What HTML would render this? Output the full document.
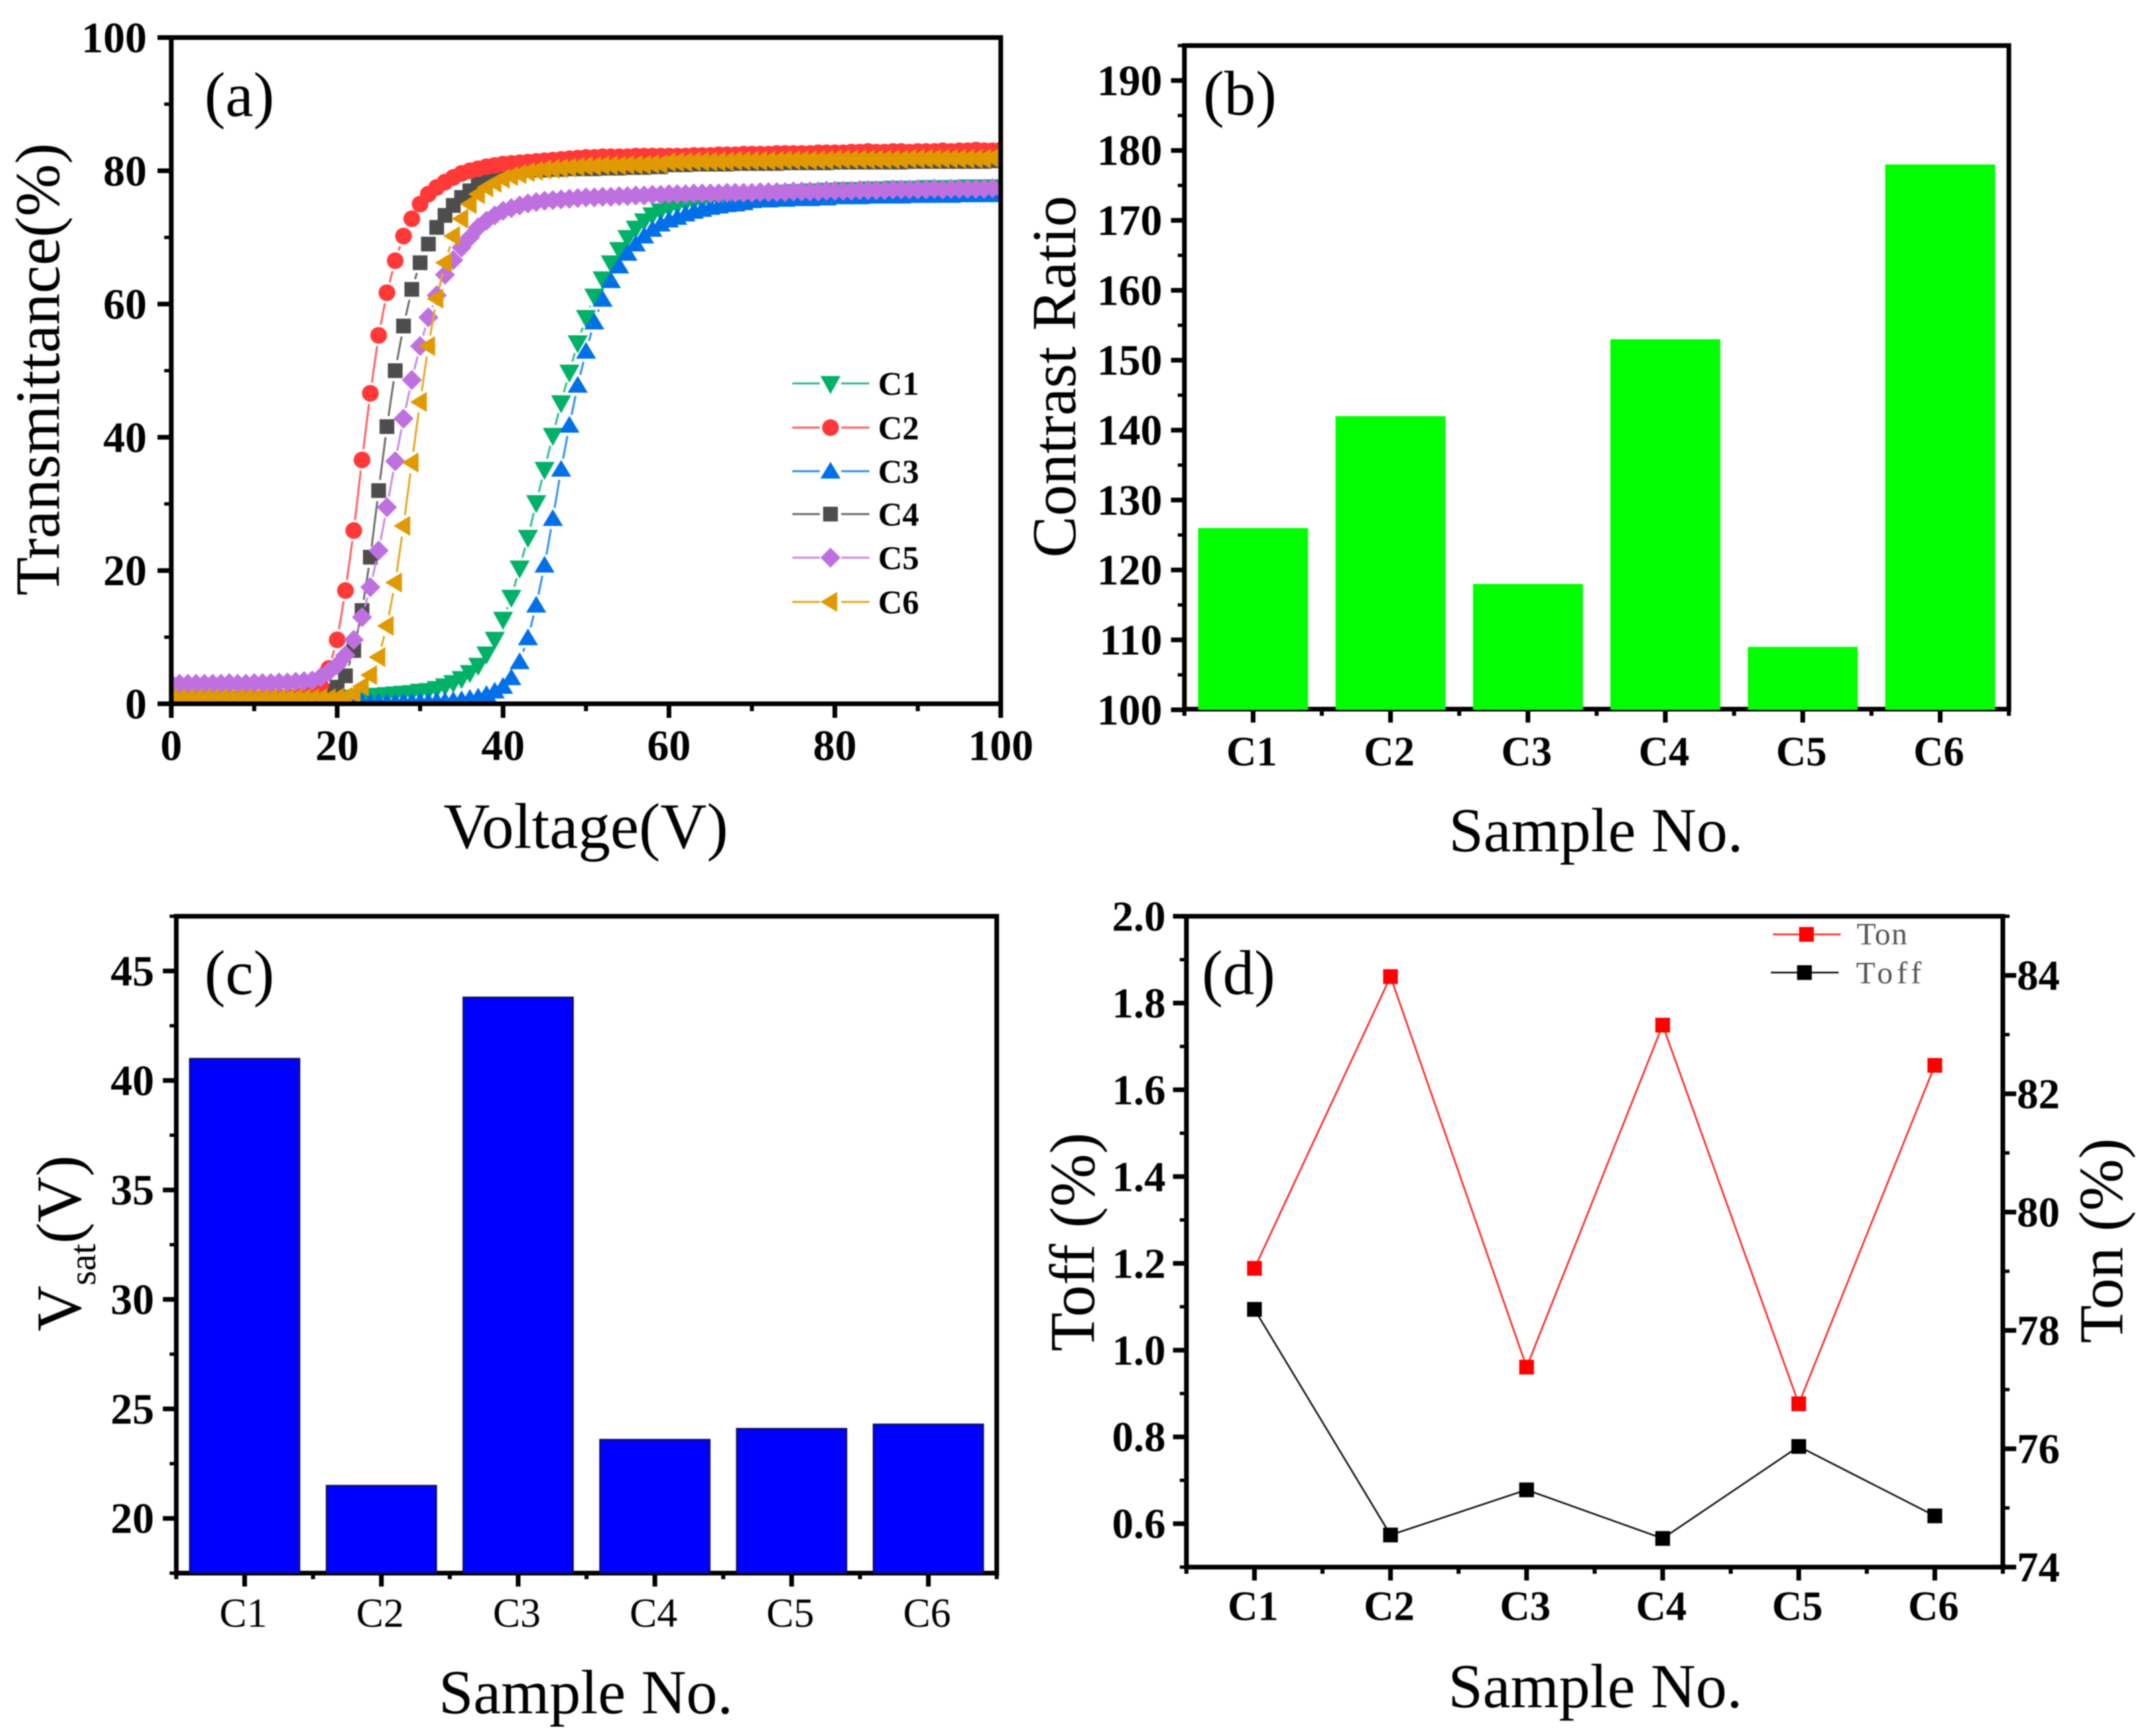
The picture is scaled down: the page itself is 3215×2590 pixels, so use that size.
<!DOCTYPE html>
<html lang="en">
<head>
<meta charset="utf-8">
<title>Electro-optical properties of samples C1–C6</title>
<style>
html,body{margin:0;padding:0;background:#fff;width:3215px;height:2590px;overflow:hidden}
svg{display:block;filter:blur(0.8px)}
text{font-family:"Liberation Serif",serif;fill:#000}
.title{font-size:93px}
.panel{font-size:94px}
</style>
</head>
<body>
<svg id="figure" xmlns="http://www.w3.org/2000/svg" width="3215" height="2590" viewBox="0 0 3215 2590">
  <defs>
    <clipPath id="clip-a"><rect x="255" y="56" width="1238" height="994"/></clipPath>
  </defs>
  <rect x="0" y="0" width="3215" height="2590" fill="#fff"/>

  <g id="panel-a">
    <g id="a-marks" clip-path="url(#clip-a)"></g>
    <rect x="255.5" y="56" width="1237.5" height="994" fill="none" stroke="#000" stroke-width="7"/>
    <g id="a-axes"></g>
    <g id="a-legend"></g>
    <text class="panel" x="305" y="173">(a)</text>
    <text class="title" x="874" y="1265" text-anchor="middle" font-size="96" style="font-size:96px">Voltage(V)</text>
    <text class="title" transform="translate(88,551) rotate(-90)" text-anchor="middle" style="font-size:94px">Transmittance(%)</text>
  </g>

  <g id="panel-b">
    <rect x="1767" y="68" width="1230" height="990" fill="none" stroke="#000" stroke-width="7"/>
    <g id="b-axes"></g>
    <g id="b-marks"></g>
    <text class="panel" x="1795" y="171">(b)</text>
    <text class="title" x="2381" y="1270" text-anchor="middle">Sample No.</text>
    <text class="title" transform="translate(1604,562) rotate(-90)" text-anchor="middle">Contrast Ratio</text>
  </g>

  <g id="panel-c">
    <rect x="263" y="1367" width="1224" height="980" fill="none" stroke="#000" stroke-width="7"/>
    <g id="c-axes"></g>
    <g id="c-marks"></g>
    <text class="panel" x="305" y="1483">(c)</text>
    <text class="title" x="874" y="2556" text-anchor="middle">Sample No.</text>
    <text class="title" transform="translate(120,1855) rotate(-90)" text-anchor="middle" style="font-size:95px">V<tspan font-size="56" dy="22">sat</tspan><tspan dy="-22">(V)</tspan></text>
  </g>

  <g id="panel-d">
    <rect x="1770" y="1367" width="1218" height="971" fill="none" stroke="#000" stroke-width="7"/>
    <g id="d-axes"></g>
    <g id="d-marks"></g>
    <g id="d-legend"></g>
    <text class="panel" x="1793" y="1483">(d)</text>
    <text class="title" x="2380" y="2547" text-anchor="middle">Sample No.</text>
    <text class="title" transform="translate(1632,1853) rotate(-90)" text-anchor="middle" style="font-size:95px">Toff (%)</text>
    <text class="title" transform="translate(3166,1851) rotate(-90)" text-anchor="middle">Ton (%)</text>
  </g>
</svg>

<script>
// ---------- data ----------
const voltages = [0,1,2,3,4,5,6,7,8,9,10,11,12,13,14,15,16,17,18,19,20,21,22,23,24,25,26,27,28,29,30,31,32,33,34,35,36,37,38,39,40,41,42,43,44,45,46,47,48,49,50,51,52,53,54,55,56,57,58,59,60,61,62,63,64,65,66,67,68,69,70,71,72,73,74,75,76,77,78,79,80,81,82,83,84,85,86,87,88,89,90,91,92,93,94,95,96,97,98,99,100];
const c1Values = [.4,.4,.5,.4,.5,.5,.4,.5,.5,.5,.6,.5,.6,.6,.6,.7,.7,.7,.8,.8,.9,.9,1.0,1.1,1.2,1.3,1.4,1.5,1.6,1.7,1.9,2.0,2.3,2.7,3.2,3.8,4.7,5.8,7.5,9.7,12.7,16,20.4,25,30.2,35.2,40.3,45.2,49.8,54.2,58,61.2,63.8,66.2,68.2,70,71.4,72.5,73.4,74,74.5,74.9,75.2,75.4,75.6,75.8,75.9,76,76.1,76.2,76.4,76.5,76.6,76.7,76.8,76.9,76.9,77,77,77.1,77.1,77.2,77.2,77.2,77.3,77.3,77.3,77.4,77.3,77.4,77.4,77.5,77.4,77.5,77.5,77.5,77.6,77.5,77.6,77.6,77.6];
const c2Values = [.7,.7,.7,.7,.7,.8,.7,.7,.8,.7,.8,.8,.8,.9,.9,1,1.2,1.6,2.7,5.3,9.6,17,26,36.6,46.6,55.3,61.7,66.5,70.2,72.8,75,76.5,77.5,78.3,79,79.6,80,80.3,80.6,80.8,81,81.1,81.2,81.3,81.4,81.5,81.6,81.7,81.8,81.9,82,82,82.1,82.1,82.1,82.1,82.2,82.2,82.2,82.2,82.2,82.2,82.2,82.3,82.3,82.3,82.4,82.4,82.4,82.5,82.5,82.5,82.5,82.6,82.6,82.6,82.6,82.6,82.7,82.7,82.7,82.7,82.8,82.8,82.9,82.8,82.8,82.9,82.9,82.8,82.9,82.9,82.9,83,82.9,83,83,83.1,83,83,83.1];
const c3Values = [.1,.1,.1,.1,.1,.1,.1,.1,.1,.1,.1,.1,.1,.1,.1,.1,.2,.2,.2,.2,.2,.2,.2,.2,.2,.2,.2,.2,.3,.3,.3,.3,.4,.4,.5,.6,.8,1,1.4,1.9,2.6,3.9,6.3,9.9,14.8,20.8,27.8,35.2,41.8,47.8,52.9,57.3,60.7,63.5,65.7,67.6,69,70.2,71.2,72,72.6,73,73.5,73.9,74.2,74.5,74.7,74.9,75,75.2,75.5,75.6,75.6,75.7,75.7,75.8,75.8,75.8,75.9,75.9,76.1,76.1,76.1,76.1,76.2,76.2,76.2,76.2,76.2,76.3,76.3,76.3,76.3,76.4,76.3,76.4,76.4,76.4,76.4,76.5,76.4];
const c4Values = [.9,.9,.9,.9,.9,.9,.9,.9,.9,.9,.9,.9,1,1,1,1.1,1.2,1.3,1.5,1.9,2.5,4.2,8,14,22,32,41.6,50,56.7,62.2,66.2,69,71.5,73.3,74.8,76,77,78,78.8,79.4,79.8,80,80,80.1,80.1,80.1,80.2,80.2,80.3,80.3,80.3,80.3,80.4,80.4,80.4,80.5,80.5,80.5,80.6,80.6,80.9,80.9,80.9,81,81,81,81,81,81.1,81.1,81.1,81.1,81.1,81.1,81.2,81.2,81.2,81.2,81.2,81.2,81.3,81.3,81.3,81.3,81.3,81.3,81.3,81.3,81.3,81.4,81.4,81.4,81.4,81.4,81.4,81.4,81.4,81.4,81.4,81.5,81.5];
const c5Values = [3,3,3,3,3,3,3,3.1,3,3,3.1,3.1,3.1,3.2,3.2,3.3,3.4,3.5,4,4.8,5.8,7.3,9.6,13,17.5,23,29.5,36.4,42.8,48.6,53.7,58,61.3,64.4,66.6,68.5,70,71.5,72.5,73.3,74,74.4,74.8,75.1,75.3,75.5,75.6,75.7,75.8,75.9,76,76,76.1,76.1,76.2,76.2,76.3,76.3,76.4,76.4,76.5,76.5,76.5,76.6,76.6,76.6,76.6,76.7,76.7,76.7,76.7,76.8,76.8,76.8,76.8,76.9,76.9,76.9,76.9,77,77,77,77,77.1,77.1,77.1,77.1,77.2,77.2,77.2,77.2,77.2,77.3,77.2,77.3,77.3,77.3,77.3,77.3,77.4,77.3];
const c6Values = [.8,.8,.8,.8,.8,.8,.8,.8,.8,.8,.8,.8,.8,.8,.8,.8,.8,.8,.8,.8,.9,1,1.5,2.6,4.3,7,11.7,18.2,26.7,36.2,45.3,53.7,60.8,66.2,70.2,72.8,75,76.5,77.5,78.2,78.8,79.2,79.5,79.8,80,80.2,80.3,80.4,80.5,80.6,80.7,80.7,80.8,80.8,80.8,80.9,80.9,80.9,81,81,81.3,81.3,81.3,81.4,81.4,81.4,81.4,81.4,81.5,81.5,81.5,81.5,81.5,81.5,81.6,81.6,81.6,81.6,81.6,81.6,81.7,81.7,81.7,81.7,81.7,81.7,81.7,81.7,81.7,81.8,81.8,81.8,81.8,81.8,81.8,81.8,81.8,81.8,81.8,81.9,81.8];
const sampleLabels = ['C1','C2','C3','C4','C5','C6'];
const contrastValues = [126,142,118,153,109,178];
const vsatValues = [41,21.5,43.8,23.6,24.1,24.3];
const tonValues = [79.05,83.98,77.38,83.16,76.76,82.48];
const toffValues = [1.094,0.574,0.678,0.566,0.778,0.618];
const aXTickLabels = [0,20,40,60,80,100];
const aYTickLabels = [0,20,40,60,80,100];
const bYTickLabels = [100,110,120,130,140,150,160,170,180,190];
const cYTickLabels = [20,25,30,35,40,45];
const dLeftTickLabels = ['0.6','0.8','1.0','1.2','1.4','1.6','1.8','2.0'];
const dRightTickLabels = [74,76,78,80,82,84];

// ---------- helpers ----------
const SVG_NS = 'http://www.w3.org/2000/svg';
function linear(d0, d1, r0, r1) {
  return function (v) { return r0 + (v - d0) * (r1 - r0) / (d1 - d0); };
}
function make(parent, tag, attrs) {
  const el = document.createElementNS(SVG_NS, tag);
  for (const k in attrs) el.setAttribute(k, attrs[k]);
  parent.appendChild(el);
  return el;
}
function tick(parent, x1, y1, x2, y2, w) {
  const el = make(parent, 'line', {x1: x1, y1: y1, x2: x2, y2: y2, stroke: '#000', 'stroke-width': w});
  
  
}
function label(parent, x, y, txt, anchor, size, bold) {
  const el = make(parent, 'text', {x: x, y: y, 'text-anchor': anchor, 'font-size': size, 'font-weight': bold ? 'bold' : 'normal'});
  el.textContent = txt;
  
  
  return el;
}
function yAxis(parent, scale, labels, step, lineX, dir, textX, anchor, domMin, domMax, major, minor, size) {
  labels.forEach(function (t) {
    const y = scale(parseFloat(t));
    label(parent, textX, y + size * 0.335, t, anchor, size, true);
  });
  const first = parseFloat(labels[0]);
  for (let k = -4; k * step + first <= domMax + 1e-6; k++) {
    const v = k * step + first;
    if (v < domMin - 1e-6) continue;
    const isMajor = k % 2 === 0;
    tick(parent, lineX, scale(v), lineX + dir * (isMajor ? major : minor), scale(v), isMajor ? 7 : 5);
  }
}
function sampleAxis(parent, scale, y0, textY, bold, size, major, minor) {
  sampleLabels.forEach(function (s, i) {
    const x = scale(i + 1);
    tick(parent, x, y0, x, y0 + major, 7);
    label(parent, x - 2, textY, s, 'middle', size, bold);
  });
  for (let i = 0; i <= 6; i++) {
    const x = scale(i + 0.5);
    tick(parent, x, y0, x, y0 + minor, 6);
  }
}
function marker(parent, shape, x, y, color) {
  let el;
  if (shape === 'down') el = make(parent, 'polygon', {points: [x - 15, y - 11, x + 15, y - 11, x, y + 16].join(' ')});
  else if (shape === 'up') el = make(parent, 'polygon', {points: [x - 15, y + 11, x + 15, y + 11, x, y - 14].join(' ')});
  else if (shape === 'left') el = make(parent, 'polygon', {points: [x + 10, y - 15, x + 10, y + 15, x - 15, y].join(' ')});
  else if (shape === 'diamond') el = make(parent, 'polygon', {points: [x - 15, y, x, y - 15, x + 15, y, x, y + 15].join(' ')});
  else if (shape === 'circle') el = make(parent, 'circle', {cx: x, cy: y, r: 12.5});
  else el = make(parent, 'rect', {x: x - 11, y: y - 11, width: 22, height: 22});
  el.setAttribute('fill', color);
  
  
  return el;
}
function gappedLine(parent, xs, ys, color, gap, width) {
  for (let i = 0; i < xs.length - 1; i++) {
    const dx = xs[i + 1] - xs[i], dy = ys[i + 1] - ys[i];
    const len = Math.sqrt(dx * dx + dy * dy);
    if (len <= gap * 2 + 1) continue;
    const ux = dx / len, uy = dy / len;
    const el = make(parent, 'line', {x1: xs[i] + ux * gap, y1: ys[i] + uy * gap, x2: xs[i + 1] - ux * gap, y2: ys[i + 1] - uy * gap, stroke: color, 'stroke-width': width});
    
    
  }
}

// ---------- panel (a) ----------
const aX = linear(0, 100, 255.5, 1493);
const aY = linear(0, 100, 1050, 56);
const seriesA = [
  {name: 'C1', values: c1Values, shape: 'down', color: '#00b167', line: '#2fc08a', row: 572},
  {name: 'C4', values: c4Values, shape: 'square', color: '#4d4d4d', line: '#6e6e6e', row: 767},
  {name: 'C2', values: c2Values, shape: 'circle', color: '#ff3838', line: '#ff6060', row: 638},
  {name: 'C3', values: c3Values, shape: 'up', color: '#006fe8', line: '#2e90f0', row: 703},
  {name: 'C5', values: c5Values, shape: 'diamond', color: '#bf70e0', line: '#c98ae6', row: 832},
  {name: 'C6', values: c6Values, shape: 'left', color: '#e09a00', line: '#e6a722', row: 898}
];
const aMarks = document.getElementById('a-marks');
const aLegend = document.getElementById('a-legend');
const aAxes = document.getElementById('a-axes');
seriesA.forEach(function (s) {
  const g = make(aMarks, 'g', {});
  
  
  const xs = voltages.map(aX);
  const ys = s.values.map(aY);
  gappedLine(g, xs, ys, s.line, 16, 3);
  xs.forEach(function (x, i) { marker(g, s.shape, x, ys[i], s.color); });

  const lg = make(aLegend, 'g', {});
  
  
  make(lg, 'line', {x1: 1182, y1: s.row, x2: 1223, y2: s.row, stroke: s.line, 'stroke-width': 3});
  make(lg, 'line', {x1: 1255, y1: s.row, x2: 1297, y2: s.row, stroke: s.line, 'stroke-width': 3});
  marker(lg, s.shape, 1239, s.row, s.color);
  label(lg, 1310, s.row + 17, s.name, 'start', 50, true);
});
aXTickLabels.forEach(function (v) {
  tick(aAxes, aX(v), 1050, aX(v), 1071, 7);
  label(aAxes, aX(v), 1134, v, 'middle', 65, true);
  if (v < 100) tick(aAxes, aX(v + 10), 1050, aX(v + 10), 1061, 6);
});
aYTickLabels.forEach(function (v) {
  tick(aAxes, 255, aY(v), 235, aY(v), 7);
  label(aAxes, 219, aY(v) + 22, v, 'end', 65, true);
  if (v < 100) tick(aAxes, 255, aY(v + 10), 245, aY(v + 10), 5);
});

// ---------- panel (b) ----------
const bX = linear(0.5, 6.5, 1767, 2997);
const bY = linear(100, 195, 1059, 68);
yAxis(document.getElementById('b-axes'), bY, bYTickLabels, 5, 1767, -1, 1734, 'end', 100, 195, 20, 10, 65);
sampleAxis(document.getElementById('b-axes'), bX, 1058, 1142, true, 62, 20, 10);
const bMarks = document.getElementById('b-marks');
contrastValues.forEach(function (v, i) {
  const bar = make(bMarks, 'rect', {x: bX(i + 1) - 82, y: bY(v), width: 164, height: bY(100) - bY(v), fill: '#00ff00'});
  
  
});

// ---------- panel (c) ----------
const cX = linear(0.5, 6.5, 263, 1487);
const cY = linear(17.5, 47.5, 2347, 1367);
yAxis(document.getElementById('c-axes'), cY, cYTickLabels, 2.5, 263, -1, 230, 'end', 17.5, 47.5, 20, 10, 65);
sampleAxis(document.getElementById('c-axes'), cX, 2347, 2427, false, 61, 20, 9);
const cMarks = document.getElementById('c-marks');
vsatValues.forEach(function (v, i) {
  const bar = make(cMarks, 'rect', {x: cX(i + 1) - 82, y: cY(v), width: 164, height: cY(17.5) - cY(v), fill: '#0000ff', stroke: '#101040', 'stroke-width': 2});
  
  
});

// ---------- panel (d) ----------
const dX = linear(0.5, 6.5, 1770, 2988);
const dLeftY = linear(0.5, 2.0, 2338, 1367);
const dRightY = linear(74, 85, 2338, 1367);
const dAxes = document.getElementById('d-axes');
yAxis(dAxes, dLeftY, dLeftTickLabels, 0.1, 1770, -1, 1739, 'end', 0.5, 2.0, 20, 10, 64);
yAxis(dAxes, dRightY, dRightTickLabels, 1, 2988, 1, 3009, 'start', 74, 85, 20, 10, 64);
sampleAxis(dAxes, dX, 2338, 2417, true, 62, 20, 10);
const dMarks = document.getElementById('d-marks');
const tonXs = sampleLabels.map(function (s, i) { return dX(i + 1); });
const tonYs = tonValues.map(dRightY);
const toffYs = toffValues.map(dLeftY);
gappedLine(dMarks, tonXs, tonYs, '#ff2020', 11, 2.5);
gappedLine(dMarks, tonXs, toffYs, '#111111', 11, 2.5);
tonXs.forEach(function (x, i) {
  marker(dMarks, 'square', x, tonYs[i], '#ff0000');
  marker(dMarks, 'square', x, toffYs[i], '#000000');
});
const dLegend = document.getElementById('d-legend');
make(dLegend, 'line', {x1: 2645, y1: 1394, x2: 2746, y2: 1394, stroke: '#ff2020', 'stroke-width': 2.5});
marker(dLegend, 'square', 2695, 1394, '#ff0000');
make(dLegend, 'line', {x1: 2642, y1: 1451, x2: 2743, y2: 1451, stroke: '#111111', 'stroke-width': 2.5});
marker(dLegend, 'square', 2692, 1451, '#000000');
const tonText = label(dLegend, 2770, 1409, 'Ton', 'start', 47, false);
tonText.setAttribute('style', 'fill:#555;letter-spacing:1.5px');

const toffText = label(dLegend, 2769, 1467, 'Toff', 'start', 47, false);
toffText.setAttribute('style', 'fill:#555;letter-spacing:6px');

</script>
</body>
</html>
